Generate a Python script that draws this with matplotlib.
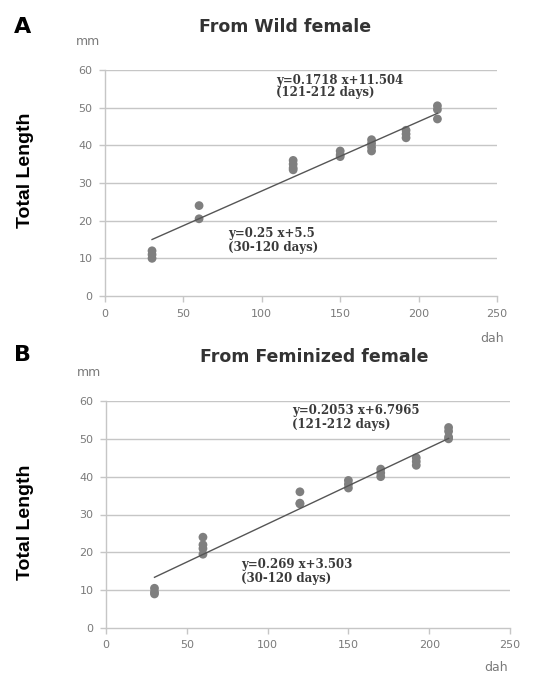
import matplotlib
matplotlib.use("Agg")
import matplotlib.pyplot as plt

# ---- data ----
days = [30, 60, 120, 150, 170, 192, 212]
wild_lengths = [
    [12, 11, 10],
    [24, 20.5],
    [36, 35, 34, 33.5],
    [38.5, 37.5, 37],
    [41.5, 40.5, 39.5, 38.5],
    [44, 43, 42],
    [50.5, 49.5, 47],
]
fem_lengths = [
    [10.5, 9.5, 9],
    [24, 22, 21, 19.5],
    [36, 33, 32.8],
    [39, 38, 37],
    [42, 41, 40],
    [45, 44, 43],
    [53, 52, 50.5, 50],
]
wild_trend_x = [30, 212]
wild_trend_y = [15, 48.5]
fem_trend_x = [30, 212]
fem_trend_y = [13.4, 50.1]

xticks = [0, 50, 100, 150, 200, 250]
yticks = [0, 10, 20, 30, 40, 50, 60]

panels = [
    dict(letter="A", title="From Wild female", data=wild_lengths,
         tx=wild_trend_x, ty=wild_trend_y,
         eq_hi=("y=0.1718 x+11.504", "(121-212 days)"), hi_pos=(109, 57.3, 54.0),
         eq_lo=("y=0.25 x+5.5", "(30-120 days)"), lo_pos=(78.4, 16.7, 13.0),
         rect=[105/533, 1-296/674, 392/533, 226/674],
         title_x=0.459, dah=(0.987, -0.186), letter_px=(23, 27), title_px=27,
         ylab_px=170),
    dict(letter="B", title="From Feminized female", data=fem_lengths,
         tx=fem_trend_x, ty=fem_trend_y,
         eq_hi=("y=0.2053 x+6.7965", "(121-212 days)"), hi_pos=(115, 57.6, 53.7),
         eq_lo=("y=0.269 x+3.503", "(30-120 days)"), lo_pos=(83.5, 16.7, 13.2),
         rect=[106/533, 1-628/674, 404/533, 227/674],
         title_x=0.515, dah=(0.965, -0.176), letter_px=(23, 355), title_px=357,
         ylab_px=522),
]

fig = plt.figure(figsize=(5.33, 6.74), dpi=100)
fig.patch.set_facecolor("white")

grid_c = "#c6c6c6"
tick_c = "#7a7a7a"
pt_c = "#7f7f7f"

for p in panels:
    ax = fig.add_axes(p["rect"])
    ax.set_xlim(0, 250)
    ax.set_ylim(0, 60)
    for yv in yticks[1:]:
        ax.axhline(yv, color=grid_c, lw=1.0, zorder=1)
    for s in ["top", "right"]:
        ax.spines[s].set_visible(False)
    for s in ["left", "bottom"]:
        ax.spines[s].set_color(grid_c)
        ax.spines[s].set_linewidth(1.0)
    ax.set_xticks(xticks)
    ax.set_yticks(yticks)
    ax.tick_params(axis="both", colors=grid_c, labelcolor=tick_c, labelsize=8,
                   length=4, width=1.0, direction="out", pad=5)
    xs, ys = [], []
    for d, vals in zip(days, p["data"]):
        for v in vals:
            xs.append(d)
            ys.append(v)
    ax.scatter(xs, ys, s=40, color=pt_c, edgecolors="none", zorder=3)
    ax.plot(p["tx"], p["ty"], color="#555555", lw=1.0, zorder=4)

    eqfont = dict(family="DejaVu Serif", fontsize=8.5, weight="bold",
                  color="#3a3a3a", va="center", ha="left")
    hx, hy1, hy2 = p["hi_pos"]
    ax.text(hx, hy1, p["eq_hi"][0], **eqfont)
    ax.text(hx, hy2, p["eq_hi"][1], **eqfont)
    lx, ly1, ly2 = p["lo_pos"]
    ax.text(lx, ly1, p["eq_lo"][0], **eqfont)
    ax.text(lx, ly2, p["eq_lo"][1], **eqfont)

    ax.text(-0.043, 1.124, "mm", transform=ax.transAxes, fontsize=9,
            color=tick_c, ha="center", va="center")
    ax.text(p["dah"][0], p["dah"][1], "dah", transform=ax.transAxes,
            fontsize=9, color=tick_c, ha="center", va="center")

    fig.text(p["rect"][0] + p["title_x"] * p["rect"][2], 1 - p["title_px"] / 674,
             p["title"], fontsize=12.5, weight="bold", color="#333333",
             ha="center", va="center")
    fig.text(p["letter_px"][0] / 533, 1 - p["letter_px"][1] / 674, p["letter"],
             fontsize=16, weight="bold", color="black", ha="center", va="center")
    fig.text(25 / 533, 1 - p["ylab_px"] / 674, "Total Length", rotation=90,
             fontsize=14, family="Liberation Sans", weight="bold",
             color="black", ha="center", va="center")

fig.savefig("out.png", dpi=100, facecolor="white")
